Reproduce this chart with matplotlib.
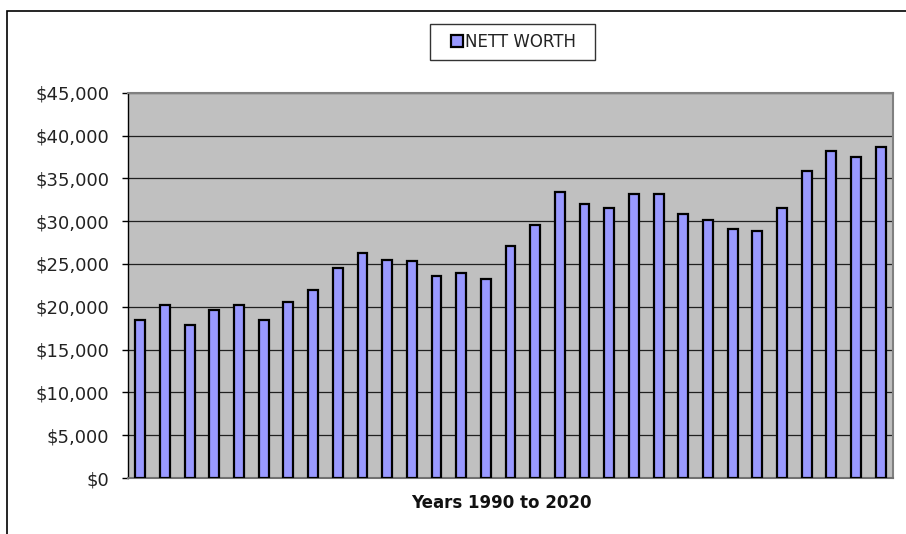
import matplotlib
matplotlib.use("Agg")
import numpy as np
from matplotlib import pyplot as plt
from matplotlib.legend_handler import HandlerPatch
from matplotlib.patches import Rectangle
from matplotlib.ticker import FuncFormatter, MultipleLocator

# nett worth per year
years = list(range(1990, 2021))
nett_worth = [18500, 20200, 17900, 19600, 20200, 18500, 20500, 22000,
              24500, 26300, 25500, 25400, 23600, 24000, 23300, 27100,
              29600, 33400, 32000, 31500, 33200, 33200, 30800, 30100,
              29100, 28800, 31500, 35900, 38200, 37500, 38700]
series_label = "NETT WORTH"
x_title = "Years 1990 to 2020"


def square_right(legend, orig_handle, xdescent, ydescent, width, height, fontsize):
    # small square key pushed to the right end of the handle box
    side = height
    return Rectangle((width - side - xdescent, -ydescent), side, side)


def main():
    plt.rcParams["font.family"] = ["DejaVu Sans"]
    fig = plt.figure(figsize=(9.06, 5.34), dpi=100)
    W, H = 906, 534

    # axes placed to match the plot area of the original
    ax = fig.add_axes([128 / W, 1 - 478 / H, (893 - 128) / W, (478 - 92.7) / H])
    ax.set_facecolor("#C0C0C0")

    x = np.arange(len(years))
    bars = ax.bar(x, nett_worth, width=0.4, color="#9999FF", edgecolor="black",
                  linewidth=1.6, label=series_label, zorder=3)

    ax.set_xlim(-0.5, len(years) - 0.5)
    ax.set_ylim(0, 45000)
    ax.yaxis.set_major_locator(MultipleLocator(5000))
    ax.yaxis.set_major_formatter(FuncFormatter(lambda v, p: "${:,.0f}".format(v)))
    ax.grid(axis="y", color="#202020", linewidth=0.9, zorder=1)
    ax.set_axisbelow(True)
    ax.set_xticks([])

    ax.tick_params(axis="y", direction="out", length=4.5, width=1,
                   color="black", pad=9, labelsize=13, labelcolor="#222222")

    for side in ("top", "right"):
        ax.spines[side].set_color("#808080")
        ax.spines[side].set_linewidth(1.5)
    ax.spines["bottom"].set_color("#707070")
    ax.spines["bottom"].set_linewidth(1.5)
    ax.spines["left"].set_color("black")
    ax.spines["left"].set_linewidth(1)

    ax.set_xlabel(x_title, fontsize=12, fontweight="bold", color="#111111")
    ax.xaxis.set_label_coords((501.5 - 128) / 765, (478 - 494) / 385.3)

    key = bars.patches[0]
    leg = ax.legend([key], [series_label + "  "], loc="upper center",
                    bbox_to_anchor=(512.5 / W, 1 - 24 / H),
                    bbox_transform=fig.transFigure, fontsize=12,
                    frameon=True, fancybox=False, edgecolor="black",
                    handlelength=1.45, handleheight=0.7, handletextpad=0.1,
                    borderpad=0.55, borderaxespad=0,
                    handler_map={key: HandlerPatch(patch_func=square_right)})
    leg.get_frame().set_linewidth(1)
    for t in leg.get_texts():
        t.set_color("#222222")

    # outer chart frame (left and top edges visible)
    fig.add_artist(Rectangle((7 / W, -0.05), 1.1, 1 - 10.5 / H + 0.05,
                             transform=fig.transFigure, fill=False,
                             edgecolor="black", linewidth=1.2))

    fig.savefig("out.png", dpi=100)


if __name__ == "__main__":
    main()
